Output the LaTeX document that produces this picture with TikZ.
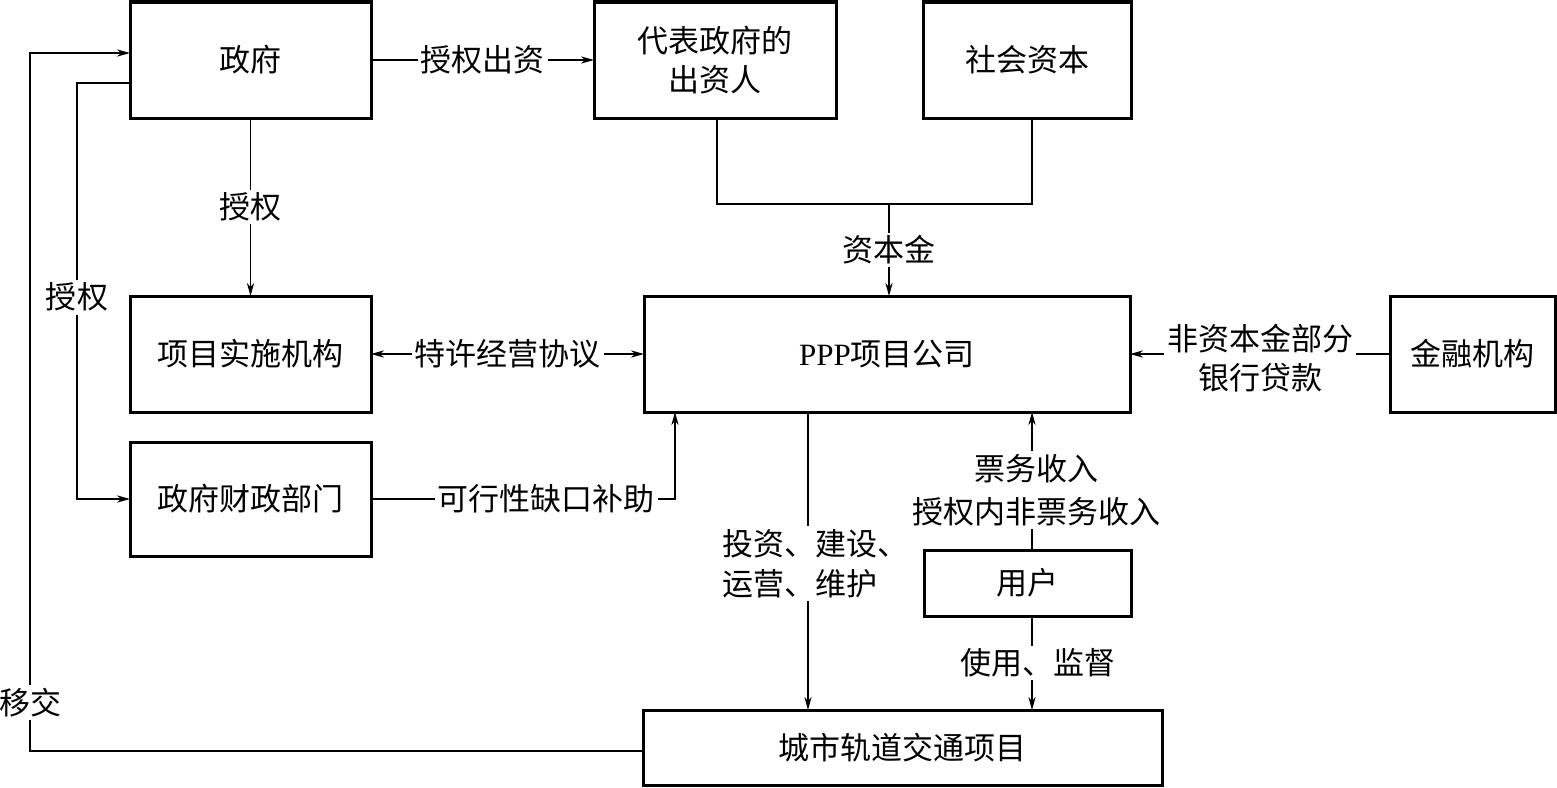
\documentclass[tikz,border=0pt]{standalone}
\usepackage{fontspec}
\newfontfamily\cjk{Noto Sans CJK SC}
\newfontfamily\lat{Liberation Serif}
\usetikzlibrary{arrows.meta,calc}
\begin{document}
\begin{tikzpicture}[x=0.5pt,y=-0.5pt,
  every node/.style={font=\cjk\fontsize{15.5}{19.5}\selectfont},
  box/.style={draw,line width=1.5pt,inner sep=0pt,outer sep=0pt,align=center},
  lbl/.style={fill=white,inner sep=1.5pt,align=center},
  conn/.style={line width=0.65pt},
  arr/.style={conn,-{Stealth[length=6.5pt,width=3.6pt,inset=2pt]}},
  darr/.style={conn,{Stealth[length=6.5pt,width=3.6pt,inset=2pt]}-{Stealth[length=6.5pt,width=3.6pt,inset=2pt]}}]
\useasboundingbox (0,0) rectangle (1557,787);
% boxes
\node[box,minimum width=120.5pt,minimum height=58pt] (gov) at (250.5,60) {政府};
\node[box,minimum width=121pt,minimum height=58pt] (inv) at (715,60) {代表政府的\\出资人};
\node[box,minimum width=104pt,minimum height=58pt] (soc) at (1027,60) {社会资本};
\node[box,minimum width=120.5pt,minimum height=58pt] (impl) at (250.5,354) {项目实施机构};
\node[box,minimum width=243pt,minimum height=58pt] (ppp) at (887,354) {{\lat PPP}项目公司};
\node[box,minimum width=82.5pt,minimum height=58pt] (fin) at (1472.5,354) {金融机构};
\node[box,minimum width=120.5pt,minimum height=57pt] (fina) at (250.5,499) {政府财政部门};
\node[box,minimum width=103.5pt,minimum height=33pt] (user) at (1027.5,583) {用户};
\node[box,minimum width=259.5pt,minimum height=37.5pt] (proj) at (902.5,747.5) {城市轨道交通项目};
% helper coordinates
\coordinate (j) at (889,204);
\coordinate (xa) at (717,0);
\coordinate (xb) at (1032,0);
\coordinate (xc) at (808,0);
\coordinate (c1) at (675,499);
\coordinate (c2) at (77,83);
\coordinate (c3) at (30,751);
\coordinate (c4) at (30,53);
% connectors
\draw[arr] (gov.east) -- node[lbl]{授权出资} (inv.west);
\draw[arr] (gov.south) -- node[lbl]{授权} (impl.north);
\draw[conn] (inv.south -| xa) |- (j) -| (soc.south -| xb);
\draw[arr] (j) -- node[lbl]{资本金} (j |- ppp.north);
\draw[darr] (impl.east) -- node[lbl]{特许经营协议} (ppp.west);
\draw[arr] (fin.west) -- node[lbl,yshift=-2pt]{非资本金部分\\银行贷款} (ppp.east);
\draw[arr] (fina.east) -- node[lbl,pos=0.576]{可行性缺口补助} (c1) -- (c1 |- ppp.south);
\draw[arr] (gov.west |- c2) -- (c2) -- node[lbl,pos=0.515]{授权} (c2 |- fina.west) -- (fina.west);
\draw[arr] (proj.west |- c3) -- (c3) -- node[lbl,pos=0.069]{移交} (c4) -- (gov.west |- c4);
\draw[arr] (ppp.south -| xc) -- node[lbl,pos=0.508,xshift=3.5pt,align=left,font=\cjk\fontsize{15.5}{20}\selectfont]{投资、建设、\\运营、维护} (proj.north -| xc);
\draw[arr] (user.north -| xb) -- node[lbl,pos=0.435,xshift=2pt,font=\cjk\fontsize{15.5}{21.5}\selectfont]{票务收入\\授权内非票务收入} (ppp.south -| xb);
\draw[arr] (user.south -| xb) -- node[lbl,xshift=3pt]{使用、监督} (proj.north -| xb);
\end{tikzpicture}
\end{document}
